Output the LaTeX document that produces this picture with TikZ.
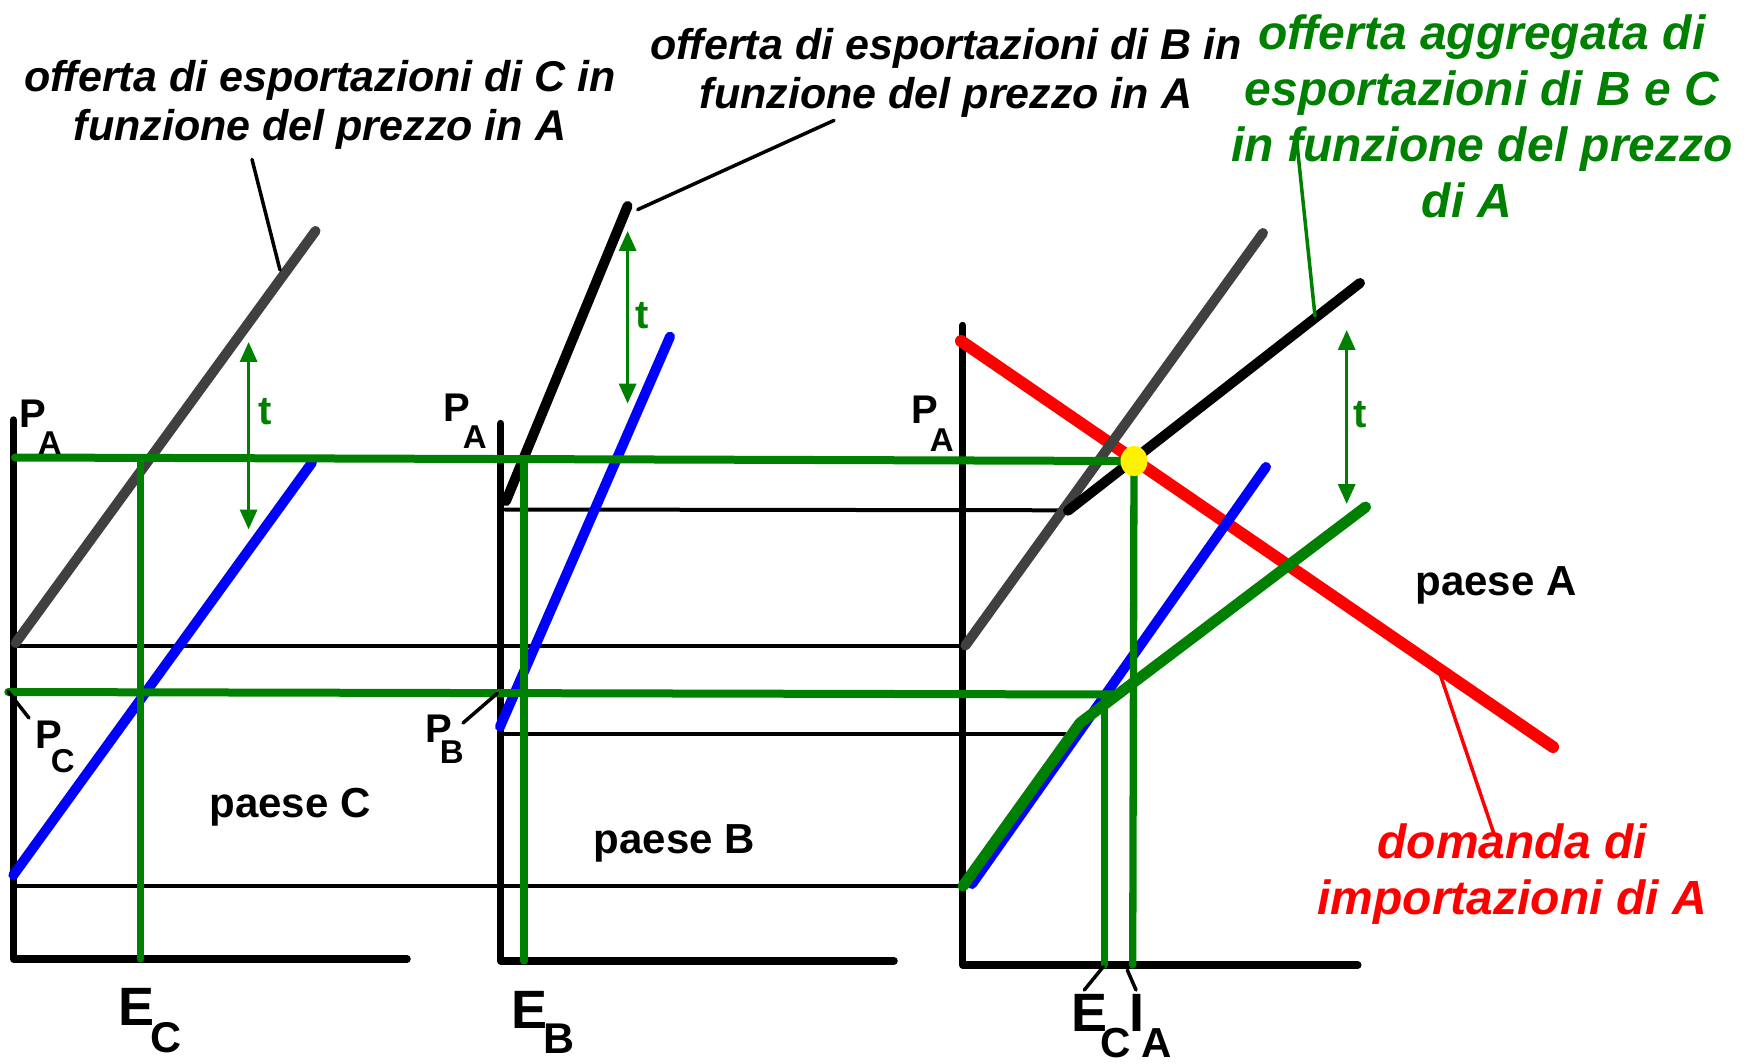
\documentclass[tikz,border=0pt]{standalone}
\usepackage{fontspec}
\setmainfont{Liberation Sans}
\usetikzlibrary{arrows.meta,calc,shapes.geometric}
\definecolor{dgreen}{RGB}{0,128,0}
\definecolor{dgrey}{RGB}{64,64,64}
\newcommand{\sublab}[6]{{\fontsize{#3}{#3}\selectfont #1}\kern#6pt\raisebox{-#5pt}{\fontsize{#4}{#4}\selectfont #2}}
\begin{document}
\begin{tikzpicture}[x=1pt,y=-1pt, line cap=round, line join=round,
  axisline/.style={line width=7.5pt},
  hline/.style={line width=4pt},
  curve/.style={line width=10pt},
  gl/.style={dgreen, line width=8pt},
  gv/.style={dgreen, line width=7.3pt},
  tarr/.style={dgreen, line width=3.3pt, line cap=butt, {Triangle[width=17pt,length=20pt]}-{Triangle[width=17pt,length=20pt]}},
  lead/.style={line width=3.5pt},
  bigit/.style={inner sep=0, align=center, font={\fontsize{43}{49}\selectfont\bfseries\itshape}},
  colit/.style={inner sep=0, align=center, font={\fontsize{48}{56}\selectfont\bfseries\itshape}},
  paese/.style={inner sep=0, anchor=base, font={\fontsize{42}{42}\selectfont\bfseries}},
  tlab/.style={inner sep=0, text=dgreen, font={\fontsize{40}{40}\selectfont\bfseries}},
  sl/.style={inner sep=0, anchor=base west, font=\bfseries}]
\useasboundingbox (0,0) rectangle (1748,1064);
% ---------- coordinates ----------
% panel C
\coordinate (cT) at (13.4,420);
\coordinate (cO) at (13.4,959);
\coordinate (cR) at (407,959);
\coordinate (gC1) at (15.6,643);
\coordinate (gC2) at (315.5,231);
\coordinate (bC1) at (13.4,875);
\coordinate (bC2) at (312,462.6);
\coordinate (ecT) at (140.5,458);
\coordinate (ecB) at (140.5,959);
\coordinate (tC1) at (248.6,342);
\coordinate (tC2) at (248.6,529.5);
% panel B
\coordinate (bT) at (500.7,423.6);
\coordinate (bO) at (500.7,961);
\coordinate (bR) at (894,961);
\coordinate (kB1) at (506,501);
\coordinate (kB2) at (627.6,206);
\coordinate (bB1) at (500,726.7);
\coordinate (bB2) at (670,336.7);
\coordinate (ebT) at (524,459);
\coordinate (ebB) at (524,961);
\coordinate (tB1) at (627.6,231);
\coordinate (tB2) at (627.6,403.6);
% panel A
\coordinate (aT) at (962.7,325.5);
\coordinate (aO) at (962.7,965);
\coordinate (aR) at (1357.8,965);
\coordinate (rA1) at (961,341);
\coordinate (rA2) at (1553,747);
\coordinate (gA1) at (965.4,645.5);
\coordinate (gA2) at (1263,233);
\coordinate (kA1) at (1068,510.7);
\coordinate (kA2) at (1360,283);
\coordinate (bA1) at (972,884);
\coordinate (bA2) at (1266,467);
\coordinate (ag1) at (963,886);
\coordinate (ag2) at (1080,723);
\coordinate (ag3) at (1365.6,507);
\coordinate (eqc) at (1134,461);
\coordinate (iaB) at (1132.7,965);
\coordinate (eaT) at (1104.3,694);
\coordinate (eaB) at (1104.3,965);
\coordinate (tA1) at (1346.7,330);
\coordinate (tA2) at (1346.7,504);
% horizontal lines
\coordinate (up1) at (15,457.5);
\coordinate (lo1) at (8.3,692);
\coordinate (lo2) at (1118,694.5);
\coordinate (h1a) at (15,645.5);
\coordinate (h1b) at (965,645.5);
\coordinate (h2a) at (13.4,886);
\coordinate (h2b) at (962.7,886);
\coordinate (h3a) at (505,509.5);
\coordinate (h3b) at (1068,510.3);
\coordinate (h4a) at (505,734);
\coordinate (h4b) at (1065,734);
% leader ends
\coordinate (lCa) at (252,159.4);
\coordinate (lCb) at (280,270);
\coordinate (lBa) at (834,120.4);
\coordinate (lBb) at (637.7,209.6);
\coordinate (lGa) at (1296.5,139);
\coordinate (lGb) at (1315,316);
\coordinate (lRa) at (1438,668);
\coordinate (lRb) at (1494,834);
\coordinate (pCa) at (8.3,691.7);
\coordinate (pCb) at (29,718);
\coordinate (pBa) at (497.3,693.3);
\coordinate (pBb) at (463,723);
\coordinate (eAa) at (1103.3,966.7);
\coordinate (eAb) at (1084.3,990);
\coordinate (iAa) at (1127.3,970);
\coordinate (iAb) at (1136,990);
% ---------- drawing ----------
\draw[axisline] (cT) -- (cO) -- (cR);
\draw[axisline] (bT) -- (bO) -- (bR);
\draw[axisline] (aT) -- (aO) -- (aR);
\draw[hline] (h1a) -- (h1b);
\draw[hline] (h2a) -- (h2b);
\draw[hline] (h3a) -- (h3b);
\draw[hline] (h4a) -- (h4b);
\draw[curve, red, line width=12pt] (rA1) -- (rA2);
\draw[curve, blue] (bC1) -- (bC2);
\draw[curve, blue] (bB1) -- (bB2);
\draw[curve, blue] (bA1) -- (bA2);
\draw[curve, dgrey] (gC1) -- (gC2);
\draw[curve, dgrey] (gA1) -- (gA2);
\draw[curve, black] (kB1) -- (kB2);
\draw[curve, black] (kA1) -- (kA2);
\draw[curve, dgreen, line width=11pt] (ag1) -- (ag2) -- (ag3);
\draw[gl] (up1) -- (eqc);
\draw[gl] (lo1) -- (lo2);
\draw[gv] (ecT) -- (ecB);
\draw[gv] (ebT) -- (ebB);
\draw[gv] (eaT) -- (eaB);
\draw[gv] (eqc) -- (iaB);
\node[ellipse, fill=yellow, minimum width=27pt, minimum height=30pt, inner sep=0] (eq) at (eqc) {};
\draw[tarr] (tC1) -- (tC2);
\draw[tarr] (tB1) -- (tB2);
\draw[tarr] (tA1) -- (tA2);
\node[tlab] (tc) at (265,412) {t};
\node[tlab] (tb) at (642,315.5) {t};
\node[tlab] (ta) at (1360,414.7) {t};
% leaders
\draw[lead] (lCa) -- (lCb);
\draw[lead] (lBa) -- (lBb);
\draw[lead, dgreen] (lGa) -- (lGb);
\draw[lead, red] (lRa) -- (lRb);
\draw[lead] (pCa) -- (pCb);
\draw[lead] (pBa) -- (pBb);
\draw[lead] (eAa) -- (eAb);
\draw[lead] (iAa) -- (iAb);
% long labels
\node[bigit] (labC) at (320,105) {offerta di esportazioni di C in\\funzione del prezzo in A};
\node[bigit] (labB) at (946,73.3) {offerta di esportazioni di B in\\funzione del prezzo in A};
\node[colit, text=dgreen] (labG) at (1482,116) {offerta aggregata di\\esportazioni di B e C\\in funzione del prezzo\\di A\hspace*{30pt}};
\node[colit, text=red] (labR) at (1512,874) {domanda di\\importazioni di A};
% paese labels
\node[paese] (pc) at (290,817.7) {paese C};
\node[paese] (pb) at (674.5,853.4) {paese B};
\node[paese] (pa) at (1496,595.9) {paese A};
% price labels
\node[sl] (paC) at (19,427) {\sublab{P}{A}{40}{33}{28}{-8}};
\node[sl] (paB) at (443,421.4) {\sublab{P}{A}{40}{33}{27}{-7}};
\node[sl] (paA) at (911,423.6) {\sublab{P}{A}{40}{33}{28}{-8}};
\node[sl] (pcl) at (35,748) {\sublab{P}{C}{40}{33}{24}{-11}};
\node[sl] (pbl) at (425,742) {\sublab{P}{B}{40}{33}{21}{-12}};
% quantity labels
\node[sl] (ecl) at (118.7,1025.6) {\sublab{E}{C}{54}{43}{27}{-4}};
\node[sl] (ebl) at (511,1028) {\sublab{E}{B}{54}{43}{25}{-4}};
\node[sl] (eal) at (1071,1031) {\sublab{E}{C}{54}{42}{26}{-7}};
\node[sl] (ial) at (1129.5,1031) {\sublab{I}{A}{54}{42}{26}{-3}};
\end{tikzpicture}
\end{document}
